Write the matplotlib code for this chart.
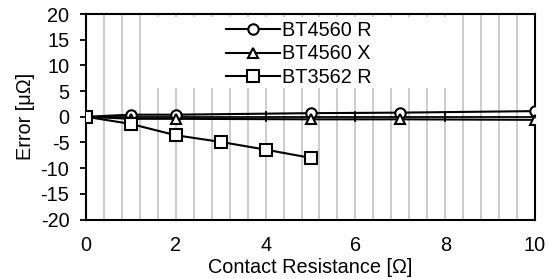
import matplotlib
matplotlib.use("Agg")
import matplotlib.pyplot as plt
from matplotlib.patches import Rectangle
import numpy as np

plt.rcParams['font.family'] = ['Liberation Sans', 'DejaVu Sans']
plt.rcParams['axes.unicode_minus'] = False

x_4560 = [0, 1, 2, 5, 7, 10]
r_4560 = [0, 0.4, 0.4, 0.7, 0.8, 1.1]
x_4560x = [0, 1, 2, 5, 7, 10]
xv_4560 = [0, -0.4, -0.4, -0.5, -0.5, -0.6]
x_3562 = [0, 1, 2, 3, 4, 5]
r_3562 = [0, -1.4, -3.6, -4.9, -6.4, -8.0]
labels = ['BT4560 R', 'BT4560 X', 'BT3562 R']

W, H = 549, 279
FS = 14.3
fig = plt.figure(figsize=(W/100, H/100), dpi=100)
ax = fig.add_axes([86/W, 1-219.5/H, (535-86)/W, (219.5-14)/H])

for gx in np.arange(0.4, 10, 0.4):
    ax.axvline(gx, color='#c8c8c8', lw=1.3, zorder=0)
# legend background box (white)
ax.add_patch(Rectangle((150/W, 1-88/H), (455-150)/W, (88-17)/H, transform=fig.transFigure,
                       facecolor='white', edgecolor='none', zorder=0.5))
ax.axhline(0, color='black', lw=1.3, zorder=1)
for mx in [2, 4, 6, 8]:
    ax.plot([mx, mx], [-0.9, 0.9], color='black', lw=1.3, zorder=1)

kw = dict(color='black', lw=1.5, mfc='white', mec='black', mew=1.5, zorder=3)
ax.plot(x_4560, r_4560, marker='o', ms=7.5, label=labels[0], **kw)
ax.plot(x_4560x, xv_4560, marker='^', ms=7.5, label=labels[1], **kw)
ax.plot(x_3562, r_3562, marker='s', ms=8, label=labels[2], **kw)

ax.set_xlim(0, 10)
ax.set_ylim(-20, 20)
ax.set_xticks([0, 2, 4, 6, 8, 10])
ax.set_yticks(range(-20, 21, 5))
ax.tick_params(axis='x', length=0, labelsize=FS, pad=12)
ax.tick_params(axis='y', length=4.5, width=1.3, labelsize=FS, direction='out', pad=7.5)
for s in ax.spines.values():
    s.set_linewidth(1.5)
ax.set_xlabel('Contact Resistance [Ω]', fontsize=FS, labelpad=2)
ax.set_ylabel('Error [μΩ]', fontsize=FS, labelpad=4)

leg = ax.legend(loc='upper left', bbox_to_anchor=(226/W, 1-20.5/H), bbox_transform=fig.transFigure,
                frameon=False, fontsize=FS, handlelength=2.7, borderpad=0, borderaxespad=0,
                labelspacing=0.25, handletextpad=0.1)

fig.savefig('out.png', dpi=100)
